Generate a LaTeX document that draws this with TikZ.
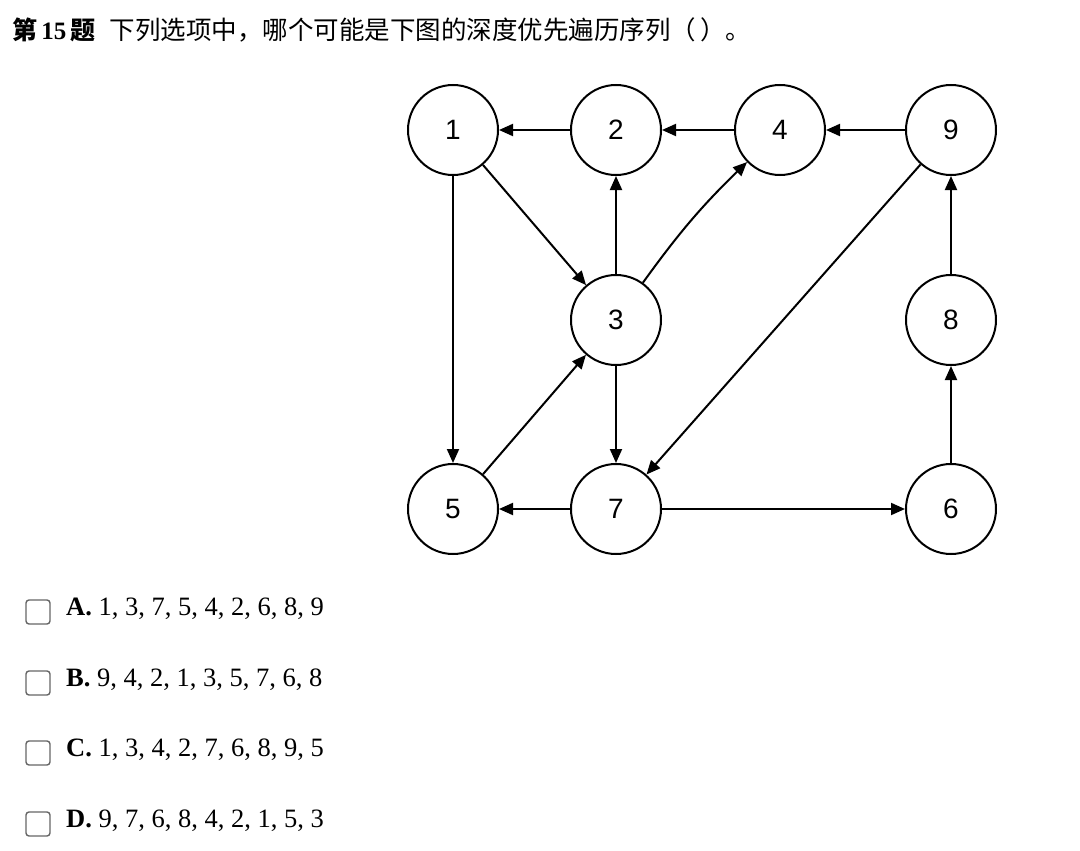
\documentclass[tikz,border=0pt]{standalone}
\usepackage{fontspec}
\setmainfont{Liberation Serif}
\newfontfamily\cjk{Noto Sans CJK SC}
\newfontfamily\numf{Liberation Sans}
\usetikzlibrary{arrows.meta}
\begin{document}
\begin{tikzpicture}[x=1pt,y=-1pt,
  vtx/.style={circle,draw,line width=2pt,minimum size=90pt,inner sep=0pt,font=\numf\fontsize{28}{30}\selectfont},
  edge/.style={-{Triangle[length=14pt,width=12pt]},line width=2pt},
  opt/.style={anchor=west,font=\fontsize{26.5}{29}\selectfont,inner sep=0pt},
  box/.style={draw=gray!80!black,line width=1.4pt,rounded corners=3pt,minimum size=24pt,inner sep=0pt}]
\useasboundingbox (0,0) rectangle (1080,851);
\node[anchor=west,inner sep=0pt] (title) at (12,30) {\fontsize{25}{28}\selectfont{\cjk\bfseries 第}\,\textbf{15}\,{\cjk\bfseries 题}\hspace{14pt}\cjk\fontsize{25.5}{28}\selectfont 下列选项中，哪个可能是下图的深度优先遍历序列（\hspace{4pt}）。};
\node[vtx] (n1) at (453,130) {1};
\node[vtx] (n2) at (616,130) {2};
\node[vtx] (n4) at (780,130) {4};
\node[vtx] (n9) at (951,130) {9};
\node[vtx] (n3) at (616,320) {3};
\node[vtx] (n8) at (951,320) {8};
\node[vtx] (n5) at (453,509) {5};
\node[vtx] (n7) at (616,509) {7};
\node[vtx] (n6) at (951,509) {6};
\draw[edge] (n2)--(n1);
\draw[edge] (n4)--(n2);
\draw[edge] (n9)--(n4);
\draw[edge] (n1)--(n3);
\draw[edge] (n1)--(n5);
\draw[edge] (n3)--(n2);
\draw[edge] (n3) to[bend left=5] (n4);
\draw[edge] (n3)--(n7);
\draw[edge] (n5)--(n3);
\draw[edge] (n9)--(n7);
\draw[edge] (n7)--(n5);
\draw[edge] (n7)--(n6);
\draw[edge] (n6)--(n8);
\draw[edge] (n8)--(n9);
\foreach \l/\t/\y in {A/{1, 3, 7, 5, 4, 2, 6, 8, 9}/612, B/{9, 4, 2, 1, 3, 5, 7, 6, 8}/683, C/{1, 3, 4, 2, 7, 6, 8, 9, 5}/753, D/{9, 7, 6, 8, 4, 2, 1, 5, 3}/824}{
  \node[box] (b\l) at (38,\y) {};
  \node[opt] (o\l) at (66,\y-3) {\textbf{\l.} \t};
}
\end{tikzpicture}
\end{document}
